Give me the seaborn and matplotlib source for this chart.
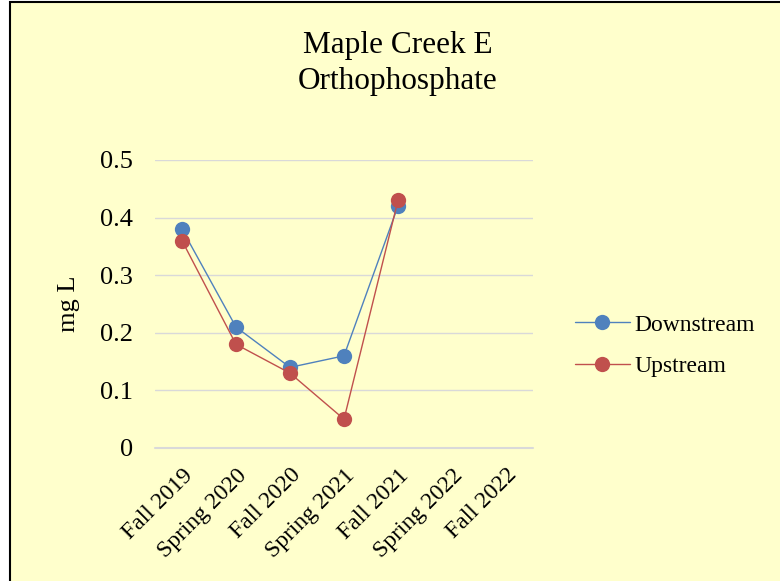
import numpy as np
import pandas as pd
import matplotlib
matplotlib.use("Agg")
import matplotlib.pyplot as plt
import matplotlib.transforms as mtransforms
from matplotlib.patches import Rectangle
import seaborn as sns

seasons = ["Fall 2019", "Spring 2020", "Fall 2020", "Spring 2021",
           "Fall 2021", "Spring 2022", "Fall 2022"]
downstream = [0.38, 0.21, 0.14, 0.16, 0.42, np.nan, np.nan]
upstream = [0.36, 0.18, 0.13, 0.05, 0.43, np.nan, np.nan]

df = pd.DataFrame({
    "season": seasons * 2,
    "pos": list(range(len(seasons))) * 2,
    "value": downstream + upstream,
    "site": ["Downstream"] * len(seasons) + ["Upstream"] * len(seasons),
})

sns.set_style("white")
plt.rcParams["font.family"] = ["Liberation Serif", "DejaVu Serif"]
plt.rcParams["text.color"] = "black"
plt.rcParams["axes.labelcolor"] = "black"
plt.rcParams["xtick.color"] = "black"
plt.rcParams["ytick.color"] = "black"

bg = "#FFFFCC"
fig = plt.figure(figsize=(7.8, 5.81), dpi=100)
fig.patch.set_facecolor("white")
fig.patches.append(Rectangle((10 / 780, -0.01), 1.0, 1 - 2 / 581 + 0.01,
                             transform=fig.transFigure, facecolor=bg,
                             edgecolor="black", linewidth=1.5, zorder=-10))

ax = fig.add_axes([155 / 780, 133 / 581, 378 / 780, 288 / 581])
ax.set_facecolor(bg)
ax.patch.set_alpha(0)

sns.lineplot(data=df.dropna(), x="pos", y="value", hue="site",
             palette={"Downstream": "#4F81BD", "Upstream": "#C0504D"},
             marker="o", markersize=11, markeredgewidth=0, linewidth=1,
             ax=ax, clip_on=False)

ax.set_xlim(-0.5, len(seasons) - 0.5)
ax.set_ylim(0, 0.5)
ax.set_yticks([0, 0.1, 0.2, 0.3, 0.4, 0.5])
ax.set_yticklabels(["0", "0.1", "0.2", "0.3", "0.4", "0.5"], fontsize=19)
ax.set_xticks(range(len(seasons)))
ax.set_xticklabels(seasons, rotation=45, ha="right", rotation_mode="anchor",
                   fontsize=17)
shift = mtransforms.ScaledTranslation(-5 / 100, -3 / 100, fig.dpi_scale_trans)
for lbl in ax.get_xticklabels():
    lbl.set_transform(lbl.get_transform() + shift)
ax.tick_params(axis="y", length=0, pad=16)
ax.tick_params(axis="x", length=0, pad=12)
ax.yaxis.grid(True, color="#D9D9D9", linewidth=1)
ax.axhline(0, color="#D9D9D9", linewidth=1.5, clip_on=False, zorder=0)
ax.set_axisbelow(True)
for s in ax.spines.values():
    s.set_visible(False)
ax.set_xlabel("")
ax.set_ylabel("mg L", fontsize=19, labelpad=14)

fig.text(398 / 780, 1 - 45 / 581, "Maple Creek E", ha="center", va="center",
         fontsize=22.5)
fig.text(398 / 780, 1 - 81 / 581, "Orthophosphate", ha="center", va="center",
         fontsize=22.5)

leg = ax.legend(loc="center left", bbox_to_anchor=(1.085, 0.355), frameon=False,
                fontsize=17, handlelength=2.35, handletextpad=0.2,
                labelspacing=0.85, borderaxespad=0)

fig.savefig("out.png", dpi=100, facecolor=fig.get_facecolor())
